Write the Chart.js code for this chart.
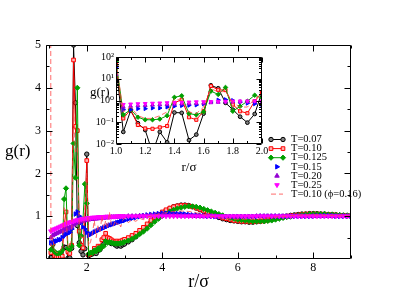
<!DOCTYPE html>
<html>
<head>
<meta charset="utf-8">
<script src="https://cdn.jsdelivr.net/npm/chart.js@4/dist/chart.umd.min.js"></script>
<style>
  html, body { margin: 0; padding: 0; background: #fff; }
  #wrap { position: relative; width: 395px; height: 305px; }
  #main { position: absolute; left: 0; top: 0; }
  #inset { position: absolute; left: 80px; top: 48px; }
  .lbl { position: absolute; font-family: 'Liberation Serif', 'DejaVu Serif', serif; color: #000; white-space: nowrap; line-height: 1; }
</style>
</head>
<body>
<div id="wrap">
  <canvas id="main" width="395" height="305"></canvas>
  <canvas id="inset" width="190" height="128"></canvas>
  <div class="lbl" style="left:5px;top:142px;font-size:17px;">g(r)</div>
  <div class="lbl" style="left:90px;top:85px;font-size:13px;">g(r)</div>
</div>
<script>
// r/sigma grid
const r = [1.00,1.05,1.10,1.15,1.20,1.25,1.30,1.35,1.40,1.45,
           1.50,1.55,1.60,1.65,1.70,1.75,1.80,1.85,1.90,1.95,
           2.00,2.05,2.10,2.15,2.20,2.25,2.30,2.35,2.40,2.45,
           2.50,2.55,2.60,2.65,2.70,2.75,2.80,2.85,2.90,2.95,
           3.00,3.1,3.2,3.3,3.4,3.5,3.6,3.7,3.8,3.9,
           4.0,4.1,4.2,4.3,4.4,4.5,4.6,4.7,4.8,4.9,
           5.0,5.1,5.2,5.3,5.4,5.5,5.6,5.7,5.8,5.9,
           6.0,6.1,6.2,6.3,6.4,6.5,6.6,6.7,6.8,6.9,
           7.0,7.1,7.2,7.3,7.4,7.5,7.6,7.7,7.8,7.9,
           8.0,8.1,8.2,8.3,8.4,8.5,8.6,8.7,8.8,8.9,
           9.0];

const gT007 = [40,0.036,0.34,0.09,0.044,0.004,0.036,0.012,0.28,0.27,
               0.015,0.027,0.25,5.0,3.65,0.78,0.38,0.18,0.096,0.24,
               2.45,0.08,0.1,0.12,0.15,0.13,0.2,0.22,0.3,0.35,
               0.5,0.42,0.4,0.36,0.38,0.33,0.3,0.32,0.3,0.33,
               0.35,0.4,0.45,0.52,0.6,0.68,0.77,0.86,0.95,1.02,
               1.08,1.13,1.18,1.22,1.24,1.26,1.26,1.25,1.22,1.19,
               1.15,1.11,1.07,1.03,1.0,0.97,0.94,0.92,0.9,0.89,
               0.88,0.87,0.87,0.86,0.86,0.87,0.88,0.89,0.91,0.93,
               0.95,0.97,0.99,1.0,1.02,1.03,1.04,1.05,1.05,1.06,
               1.06,1.06,1.05,1.05,1.04,1.04,1.03,1.02,1.02,1.01,
               1.01];

const gT010 = [50,0.15,0.38,0.075,0.052,0.05,0.058,0.067,0.78,1.1,
               0.17,0.13,0.32,4.65,3.1,3.0,0.65,0.32,0.26,0.93,
               2.3,0.1,0.12,0.15,0.25,0.2,0.3,0.28,0.45,0.5,
               0.6,0.5,0.48,0.45,0.42,0.4,0.42,0.4,0.42,0.44,
               0.46,0.5,0.55,0.6,0.67,0.74,0.82,0.9,0.97,1.04,
               1.1,1.15,1.19,1.22,1.24,1.25,1.25,1.24,1.22,1.19,
               1.16,1.12,1.09,1.05,1.02,0.99,0.96,0.94,0.92,0.9,
               0.89,0.88,0.88,0.87,0.87,0.88,0.88,0.89,0.91,0.93,
               0.95,0.97,0.98,1.0,1.01,1.02,1.03,1.04,1.05,1.05,
               1.05,1.05,1.05,1.04,1.04,1.03,1.03,1.02,1.02,1.01,
               1.01];

const gT0125 = [63,0.22,0.38,0.17,0.13,0.13,0.14,0.2,1.4,1.65,
                0.25,0.22,0.3,2.7,1.9,4.0,0.32,0.54,0.93,1.75,
                1.3,0.12,0.15,0.14,0.2,0.18,0.25,0.22,0.3,0.3,
                0.42,0.38,0.4,0.38,0.37,0.36,0.36,0.36,0.37,0.38,
                0.4,0.43,0.47,0.52,0.58,0.64,0.71,0.79,0.87,0.94,
                1.0,1.06,1.11,1.15,1.18,1.2,1.22,1.23,1.23,1.22,
                1.2,1.17,1.14,1.11,1.08,1.05,1.02,0.99,0.96,0.94,
                0.92,0.91,0.9,0.89,0.88,0.88,0.88,0.88,0.89,0.9,
                0.92,0.94,0.96,0.98,0.99,1.01,1.02,1.03,1.04,1.05,
                1.05,1.05,1.05,1.05,1.04,1.04,1.03,1.03,1.02,1.02,
                1.01];

const gT015 = [34,0.38,0.38,0.42,0.42,0.45,0.45,0.5,0.55,0.58,
               0.6,0.62,0.7,0.85,1.05,1.1,1.0,0.85,0.75,0.7,
               0.62,0.55,0.58,0.6,0.63,0.65,0.67,0.69,0.71,0.73,
               0.75,0.77,0.79,0.8,0.82,0.83,0.85,0.86,0.88,0.89,
               0.9,0.93,0.95,0.97,0.99,1.01,1.03,1.04,1.05,1.06,
               1.07,1.07,1.07,1.07,1.06,1.06,1.05,1.04,1.03,1.03,
               1.02,1.01,1.0,1.0,0.99,0.99,0.99,0.99,0.99,0.99,
               0.99,0.99,0.99,0.99,0.99,0.99,1.0,1.0,1.0,1.0,
               1.0,1.0,1.0,1.0,1.0,1.0,1.0,1.0,1.0,1.0,
               1.0,1.01,1.01,1.01,1.01,1.01,1.0,1.0,1.0,1.0,
               1.0];

const gT020 = [16,0.5,0.55,0.58,0.6,0.62,0.64,0.66,0.68,0.7,
               0.72,0.74,0.76,0.8,0.84,0.86,0.87,0.88,0.89,0.9,
               0.91,0.92,0.93,0.93,0.94,0.94,0.95,0.95,0.96,0.96,
               0.97,0.97,0.97,0.98,0.98,0.98,0.98,0.99,0.99,0.99,
               0.99,1.0,1.0,1.0,1.01,1.01,1.01,1.02,1.02,1.02,
               1.02,1.02,1.02,1.02,1.02,1.01,1.01,1.01,1.01,1.0,
               1.0,1.0,1.0,1.0,1.0,0.99,0.99,0.99,0.99,0.99,
               0.99,0.99,0.99,0.99,0.99,1.0,1.0,1.0,1.0,1.0,
               1.0,1.0,1.0,1.0,1.0,1.0,1.0,1.0,1.0,1.0,
               1.0,1.0,1.0,1.0,1.0,1.0,1.0,1.0,1.0,1.0,
               1.0];

const gT025 = [8,0.65,0.68,0.7,0.72,0.74,0.76,0.78,0.8,0.82,
               0.84,0.86,0.87,0.88,0.9,0.91,0.92,0.93,0.94,0.95,
               0.95,0.96,0.96,0.97,0.97,0.97,0.98,0.98,0.98,0.98,
               0.99,0.99,0.99,0.99,0.99,0.99,1.0,1.0,1.0,1.0,
               1.0,1.0,1.0,1.0,1.0,1.0,1.0,1.0,1.0,1.0,
               1.0,1.0,1.0,1.0,1.0,1.0,1.0,1.0,1.0,1.0,
               1.0,1.0,1.0,1.0,1.0,1.0,1.0,1.0,1.0,1.0,
               1.0,1.0,1.0,1.0,1.0,1.0,1.0,1.0,1.0,1.0,
               1.0,1.0,1.0,1.0,1.0,1.0,1.0,1.0,1.0,1.0,
               1.0,1.0,1.0,1.0,1.0,1.0,1.0,1.0,1.0,1.0,
               1.0];

const gT010phi = [60,0.3,0.5,0.2,0.15,0.15,0.2,0.3,1.2,1.0,
                  0.3,0.25,0.5,3.5,2.5,2.6,0.8,0.5,0.5,1.2,
                  2.0,0.3,0.4,0.6,0.9,0.5,0.8,0.6,1.0,0.7,
                  0.9,0.7,1.1,0.8,0.75,0.9,0.8,0.85,0.75,0.9,
                  0.95,0.85,0.92,0.88,0.95,0.92,0.98,1.0,1.02,1.05,
                  1.07,1.08,1.1,1.11,1.12,1.12,1.12,1.11,1.1,1.08,
                  1.06,1.04,1.02,1.0,0.98,0.97,0.95,0.94,0.94,0.93,
                  0.93,0.93,0.93,0.93,0.93,0.94,0.94,0.95,0.96,0.97,
                  0.98,0.99,1.0,1.0,1.01,1.02,1.02,1.03,1.03,1.03,
                  1.03,1.03,1.03,1.02,1.02,1.02,1.01,1.01,1.01,1.01,
                  1.0];

const seriesLabels = ['T=0.07', 'T=0.10', 'T=0.125', 'T=0.15', 'T=0.20', 'T=0.25', 'T=0.10 (\u03d5=0.16)'];
const seriesValues = [gT007, gT010, gT0125, gT015, gT020, gT025, gT010phi];

// axis ticks
const mainXTicks = [2, 4, 6, 8];
const mainXMinor = [1, 3, 5, 7, 9];
const mainYTicks = [1, 2, 3, 4, 5];
const mainYMinor = [0.5, 1.5, 2.5, 3.5, 4.5];
const insetXTicks = [1, 1.2, 1.4, 1.6, 1.8, 2];
const insetXMinor = [1.1, 1.3, 1.5, 1.7, 1.9];
const insetYTicks = [0.01, 0.1, 1, 10, 100];
const insetYLabels = ['10\u207b\u00b2', '10\u207b\u00b9', '10\u2070', '10\u00b9', '10\u00b2'];

const FONT = "'Liberation Serif', 'DejaVu Serif', serif";

const looks = [
  { color: '#000000', fill: '#808080', shape: 'circle',   rot: 0,   line: true,  dash: [],     rad: 2.2 },
  { color: '#ff0000', fill: '#ffb0b0', shape: 'rect',     rot: 0,   line: true,  dash: [],     rad: 2.6 },
  { color: '#00a000', fill: '#00a000', shape: 'rectRot',  rot: 0,   line: true,  dash: [],     rad: 2.6 },
  { color: '#0000ff', fill: '#0000ff', shape: 'triangle', rot: 90,  line: false, dash: [],     rad: 2.6 },
  { color: '#9400d3', fill: '#9400d3', shape: 'triangle', rot: 0,   line: false, dash: [],     rad: 2.6 },
  { color: '#ff00ff', fill: '#ff00ff', shape: 'triangle', rot: 180, line: false, dash: [],     rad: 2.6 },
  { color: 'rgba(255,70,70,0.8)', fill: 'rgba(0,0,0,0)', shape: 'circle', rot: 0, line: true, dash: [5, 3], rad: 0 }
];

// in the main panel the solid curves start at the second grid point (the contact peak is only shown in the inset)
function buildDatasets(scaleR, mainPanel) {
  return seriesValues.map((vals, i) => {
    const s = looks[i];
    const first = (mainPanel && s.dash.length === 0) ? 1 : 0;
    return {
      label: seriesLabels[i],
      data: r.map((x, k) => ({ x: x, y: vals[k] })).slice(first),
      showLine: s.line,
      borderColor: s.color,
      backgroundColor: s.fill,
      borderWidth: 1,
      borderDash: s.dash,
      pointStyle: s.shape,
      pointRotation: s.rot,
      pointRadius: s.rad * scaleR,
      pointBorderWidth: 1,
      pointBorderColor: s.color,
      pointBackgroundColor: s.fill,
      order: seriesValues.length - i
    };
  });
}

// frame with inward ticks on all four sides
const frameTicks = {
  id: 'frameTicks',
  beforeDraw(chart, args, o) {
    if (!o.fill) return;
    const a = chart.chartArea;
    chart.ctx.save();
    chart.ctx.fillStyle = '#fff';
    chart.ctx.fillRect(a.left, a.top, a.right - a.left, a.bottom - a.top);
    chart.ctx.restore();
  },
  afterDraw(chart, args, o) {
    const { ctx, chartArea: a, scales } = chart;
    const sx = scales.x, sy = scales.y;
    ctx.save();
    ctx.strokeStyle = '#000';
    ctx.lineWidth = 1;
    ctx.beginPath();
    const L = Math.round(a.left) + 0.5, R = Math.round(a.right) - 0.5;
    const T = Math.round(a.top) + 0.5, B = Math.round(a.bottom) - 0.5;
    ctx.rect(L, T, R - L, B - T);
    const xt = (v, len) => {
      const p = Math.round(sx.getPixelForValue(v)) + 0.5;
      ctx.moveTo(p, B); ctx.lineTo(p, B - len);
      ctx.moveTo(p, T); ctx.lineTo(p, T + len);
    };
    const yt = (v, len) => {
      const p = Math.round(sy.getPixelForValue(v)) + 0.5;
      ctx.moveTo(L, p); ctx.lineTo(L + len, p);
      ctx.moveTo(R, p); ctx.lineTo(R - len, p);
    };
    o.xMajor.forEach(v => xt(v, o.major));
    o.xMinor.forEach(v => xt(v, o.minor));
    o.yMajor.forEach(v => yt(v, o.major));
    o.yMinor.forEach(v => yt(v, o.minor));
    ctx.stroke();
    ctx.restore();
  }
};

// legend drawn from the datasets
const gLegend = {
  id: 'gLegend',
  afterDraw(chart, args, o) {
    if (!o.show) return;
    const ctx = chart.ctx;
    ctx.save();
    ctx.font = '10.5px ' + FONT;
    ctx.textBaseline = 'middle';
    chart.data.datasets.forEach((d, i) => {
      const y = o.y + i * o.dy;
      ctx.lineWidth = 1;
      if (d.showLine) {
        ctx.strokeStyle = d.borderColor;
        ctx.setLineDash(d.borderDash);
        ctx.beginPath();
        ctx.moveTo(o.x, y); ctx.lineTo(o.x + o.len, y);
        ctx.stroke();
        ctx.setLineDash([]);
      }
      if (d.pointRadius > 0) {
        ctx.strokeStyle = d.pointBorderColor;
        ctx.fillStyle = d.pointBackgroundColor;
        const opt = { pointStyle: d.pointStyle, rotation: d.pointRotation, radius: d.pointRadius, borderWidth: 1 };
        const xs = d.showLine ? [o.x, o.x + o.len] : [o.x + o.len / 2];
        xs.forEach(px => Chart.helpers.drawPoint(ctx, opt, px, y));
      }
      ctx.fillStyle = '#000';
      ctx.fillText(d.label, o.x + o.len + o.gap, y);
    });
    ctx.restore();
  }
};

const fixTicks = vals => s => { s.ticks = vals.map(v => ({ value: v })); };

new Chart(document.getElementById('main'), {
  type: 'scatter',
  data: { datasets: buildDatasets(1, true) },
  plugins: [frameTicks, gLegend],
  options: {
    responsive: false,
    animation: false,
    events: [],
    layout: { padding: { left: 0, top: 45, right: 44, bottom: 0 } },
    plugins: {
      legend: { display: false },
      tooltip: { enabled: false },
      frameTicks: { fill: false, xMajor: mainXTicks, xMinor: mainXMinor, yMajor: mainYTicks, yMinor: mainYMinor, major: 6, minor: 3 },
      gLegend: { show: true, x: 271, y: 139.5, dy: 9.1, len: 12, gap: 8 }
    },
    scales: {
      x: {
        type: 'linear', min: 0.92, max: 9,
        grid: { display: false, drawTicks: false },
        border: { display: false },
        afterBuildTicks: fixTicks(mainXTicks),
        afterFit: s => { s.height = 46; },
        ticks: { color: '#000', font: { family: FONT, size: 12 }, padding: 2, maxRotation: 0, autoSkip: false },
        title: { display: true, text: 'r/\u03c3', color: '#000', font: { family: FONT, size: 18 }, padding: { top: 0, bottom: 12 } }
      },
      y: {
        type: 'linear', min: 0, max: 5,
        grid: { display: false, drawTicks: false },
        border: { display: false },
        afterBuildTicks: fixTicks(mainYTicks),
        afterFit: s => { s.width = 46; },
        ticks: { color: '#000', font: { family: FONT, size: 12 }, padding: 5 }
      }
    }
  }
});

const insetYMinor = [];
[0.01, 0.1, 1, 10].forEach(d => { for (let m = 2; m <= 9; m++) insetYMinor.push(d * m); });

new Chart(document.getElementById('inset'), {
  type: 'scatter',
  data: { datasets: buildDatasets(0.85, false) },
  plugins: [frameTicks],
  options: {
    responsive: false,
    animation: false,
    events: [],
    layout: { padding: { left: 0, top: 9, right: 8, bottom: 0 } },
    plugins: {
      legend: { display: false },
      tooltip: { enabled: false },
      frameTicks: { fill: true, xMajor: insetXTicks, xMinor: insetXMinor, yMajor: insetYTicks, yMinor: insetYMinor, major: 5, minor: 2.5 }
    },
    scales: {
      x: {
        type: 'linear', min: 1, max: 2,
        grid: { display: false, drawTicks: false },
        border: { display: false },
        afterBuildTicks: fixTicks(insetXTicks),
        afterFit: s => { s.height = 32; },
        ticks: { color: '#000', font: { family: FONT, size: 10 }, padding: 1, maxRotation: 0, autoSkip: false },
        title: { display: true, text: 'r/\u03c3', color: '#000', font: { family: FONT, size: 13 }, padding: { top: 0, bottom: 1 } }
      },
      y: {
        type: 'logarithmic', min: 0.01, max: 100,
        grid: { display: false, drawTicks: false },
        border: { display: false },
        afterBuildTicks: fixTicks(insetYTicks),
        afterFit: s => { s.width = 36; },
        ticks: { color: '#000', font: { family: FONT, size: 10 }, padding: 2, autoSkip: false,
                 callback: (v, i) => insetYLabels[i] }
      }
    }
  }
});
</script>
</body>
</html>
